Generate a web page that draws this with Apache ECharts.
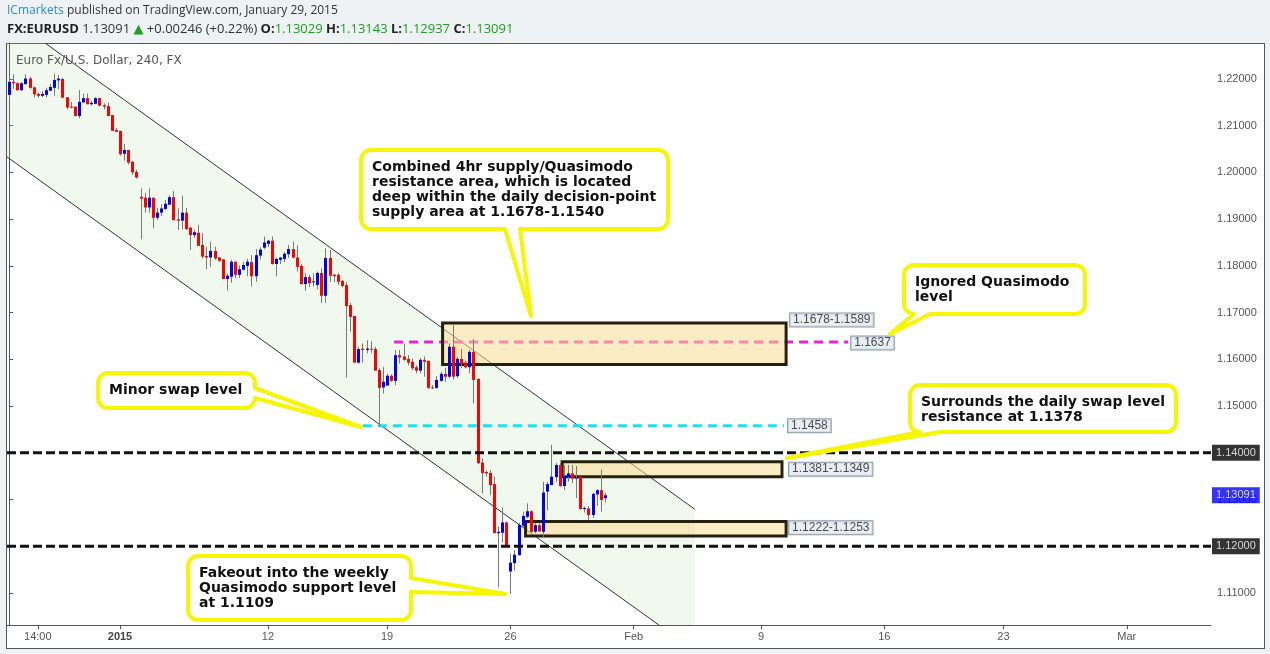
<!DOCTYPE html>
<html>
<head>
<meta charset="utf-8">
<title>FX:EURUSD 240</title>
<script src="https://cdn.jsdelivr.net/npm/echarts@6/dist/echarts.min.js"></script>
<style>
  html, body { margin: 0; padding: 0; background: #eef2f5; }
  #wrap { position: relative; width: 1270px; height: 654px; overflow: hidden; }
  #panel { position: absolute; left: 6px; top: 43px; width: 1257px; height: 604px; background: #fff; border: 1px solid #555; }
  #chart { position: absolute; left: 0; top: 0; width: 1270px; height: 654px; }
</style>
</head>
<body>
<div id="wrap">
  <div id="panel"></div>
  <div id="chart"></div>
</div>
<script>
// ---- 4-hour EURUSD candles: [open, high, low, close] ----
const candles = [
  [1.2166, 1.2198, 1.2162, 1.2194], [1.2194, 1.2210, 1.2179, 1.2191], [1.2191, 1.2193, 1.2175, 1.2176],
  [1.2176, 1.2193, 1.2175, 1.2191], [1.2189, 1.2210, 1.2188, 1.2201], [1.2201, 1.2205, 1.2179, 1.2181],
  [1.2182, 1.2184, 1.2160, 1.2167], [1.2168, 1.2171, 1.2160, 1.2164], [1.2164, 1.2174, 1.2161, 1.2168],
  [1.2166, 1.2181, 1.2161, 1.2176], [1.2175, 1.2189, 1.2174, 1.2183], [1.2181, 1.2211, 1.2164, 1.2198],
  [1.2197, 1.2209, 1.2178, 1.2201], [1.2200, 1.2202, 1.2160, 1.2160], [1.2161, 1.2161, 1.2135, 1.2139],
  [1.2141, 1.2151, 1.2137, 1.2139], [1.2141, 1.2141, 1.2120, 1.2121], [1.2121, 1.2176, 1.2116, 1.2151],
  [1.2150, 1.2169, 1.2149, 1.2159], [1.2159, 1.2169, 1.2146, 1.2146], [1.2146, 1.2153, 1.2143, 1.2149],
  [1.2147, 1.2161, 1.2146, 1.2159], [1.2159, 1.2160, 1.2141, 1.2143], [1.2144, 1.2148, 1.2135, 1.2141],
  [1.2142, 1.2150, 1.2120, 1.2121], [1.2123, 1.2123, 1.2089, 1.2089], [1.2091, 1.2095, 1.2087, 1.2087],
  [1.2089, 1.2089, 1.2036, 1.2039], [1.2040, 1.2061, 1.2025, 1.2048], [1.2048, 1.2048, 1.2017, 1.2021],
  [1.2023, 1.2025, 1.1995, 1.2000], [1.2001, 1.2006, 1.1987, 1.1989], [1.1948, 1.1966, 1.1857, 1.1944],
  [1.1946, 1.1956, 1.1914, 1.1925], [1.1925, 1.1966, 1.1914, 1.1946], [1.1946, 1.1946, 1.1881, 1.1903],
  [1.1903, 1.1924, 1.1898, 1.1914], [1.1914, 1.1932, 1.1907, 1.1923], [1.1922, 1.1941, 1.1920, 1.1933],
  [1.1931, 1.1951, 1.1931, 1.1947], [1.1947, 1.1960, 1.1897, 1.1898], [1.1900, 1.1923, 1.1877, 1.1897],
  [1.1897, 1.1950, 1.1878, 1.1914], [1.1914, 1.1924, 1.1877, 1.1879], [1.1882, 1.1884, 1.1834, 1.1866],
  [1.1866, 1.1877, 1.1860, 1.1872], [1.1871, 1.1888, 1.1843, 1.1843], [1.1845, 1.1870, 1.1816, 1.1820],
  [1.1821, 1.1841, 1.1793, 1.1818], [1.1818, 1.1852, 1.1798, 1.1832], [1.1832, 1.1841, 1.1813, 1.1816],
  [1.1818, 1.1819, 1.1808, 1.1811], [1.1814, 1.1815, 1.1772, 1.1772], [1.1772, 1.1784, 1.1747, 1.1779],
  [1.1777, 1.1813, 1.1764, 1.1809], [1.1809, 1.1809, 1.1774, 1.1781], [1.1781, 1.1801, 1.1774, 1.1793],
  [1.1792, 1.1809, 1.1790, 1.1802], [1.1800, 1.1815, 1.1778, 1.1809], [1.1808, 1.1823, 1.1756, 1.1778],
  [1.1778, 1.1836, 1.1766, 1.1823], [1.1822, 1.1840, 1.1814, 1.1835], [1.1839, 1.1863, 1.1836, 1.1850],
  [1.1847, 1.1856, 1.1840, 1.1854], [1.1854, 1.1863, 1.1803, 1.1804], [1.1804, 1.1818, 1.1778, 1.1815],
  [1.1813, 1.1819, 1.1804, 1.1818], [1.1815, 1.1830, 1.1808, 1.1826], [1.1825, 1.1845, 1.1817, 1.1836],
  [1.1836, 1.1852, 1.1816, 1.1818], [1.1818, 1.1844, 1.1788, 1.1798], [1.1800, 1.1804, 1.1760, 1.1761],
  [1.1761, 1.1784, 1.1747, 1.1776], [1.1776, 1.1781, 1.1755, 1.1763], [1.1765, 1.1784, 1.1756, 1.1767],
  [1.1759, 1.1788, 1.1750, 1.1785], [1.1785, 1.1795, 1.1721, 1.1736], [1.1736, 1.1838, 1.1721, 1.1817],
  [1.1817, 1.1834, 1.1765, 1.1779], [1.1781, 1.1783, 1.1765, 1.1778], [1.1781, 1.1785, 1.1759, 1.1766],
  [1.1768, 1.1770, 1.1754, 1.1757], [1.1759, 1.1766, 1.1561, 1.1714], [1.1716, 1.1721, 1.1659, 1.1691],
  [1.1693, 1.1693, 1.1593, 1.1593], [1.1593, 1.1627, 1.1591, 1.1622], [1.1623, 1.1634, 1.1593, 1.1620],
  [1.1620, 1.1641, 1.1613, 1.1623], [1.1623, 1.1639, 1.1613, 1.1621], [1.1622, 1.1627, 1.1576, 1.1576],
  [1.1577, 1.1581, 1.1456, 1.1539], [1.1540, 1.1584, 1.1527, 1.1552], [1.1544, 1.1569, 1.1543, 1.1565],
  [1.1565, 1.1568, 1.1552, 1.1554], [1.1554, 1.1620, 1.1545, 1.1609], [1.1609, 1.1620, 1.1591, 1.1604],
  [1.1606, 1.1634, 1.1597, 1.1599], [1.1601, 1.1609, 1.1587, 1.1593], [1.1595, 1.1602, 1.1577, 1.1581],
  [1.1583, 1.1587, 1.1570, 1.1576], [1.1576, 1.1603, 1.1570, 1.1599], [1.1599, 1.1606, 1.1563, 1.1595],
  [1.1597, 1.1597, 1.1537, 1.1539], [1.1540, 1.1545, 1.1537, 1.1539], [1.1539, 1.1564, 1.1537, 1.1556],
  [1.1554, 1.1573, 1.1552, 1.1569], [1.1569, 1.1582, 1.1552, 1.1563], [1.1563, 1.1634, 1.1560, 1.1627],
  [1.1627, 1.1674, 1.1557, 1.1563], [1.1564, 1.1605, 1.1560, 1.1601], [1.1601, 1.1622, 1.1581, 1.1590],
  [1.1593, 1.1597, 1.1581, 1.1583], [1.1583, 1.1620, 1.1570, 1.1616], [1.1616, 1.1643, 1.1506, 1.1556],
  [1.1558, 1.1560, 1.1376, 1.1378], [1.1379, 1.1388, 1.1313, 1.1357], [1.1359, 1.1362, 1.1349, 1.1356],
  [1.1357, 1.1363, 1.1310, 1.1331], [1.1333, 1.1349, 1.1228, 1.1228], [1.1228, 1.1242, 1.1112, 1.1231],
  [1.1229, 1.1283, 1.1208, 1.1251], [1.1251, 1.1253, 1.1198, 1.1199], [1.1146, 1.1184, 1.1098, 1.1165],
  [1.1164, 1.1192, 1.1148, 1.1182], [1.1181, 1.1250, 1.1180, 1.1246], [1.1244, 1.1274, 1.1242, 1.1265],
  [1.1263, 1.1292, 1.1260, 1.1275], [1.1275, 1.1277, 1.1229, 1.1231], [1.1231, 1.1249, 1.1228, 1.1245],
  [1.1245, 1.1249, 1.1231, 1.1232], [1.1231, 1.1338, 1.1220, 1.1315], [1.1317, 1.1338, 1.1277, 1.1333],
  [1.1331, 1.1417, 1.1331, 1.1349], [1.1348, 1.1378, 1.1338, 1.1374], [1.1374, 1.1378, 1.1327, 1.1329],
  [1.1329, 1.1374, 1.1320, 1.1350], [1.1348, 1.1374, 1.1338, 1.1356], [1.1356, 1.1374, 1.1335, 1.1345],
  [1.1345, 1.1372, 1.1303, 1.1347], [1.1349, 1.1349, 1.1278, 1.1280], [1.1280, 1.1285, 1.1272, 1.1282],
  [1.1281, 1.1286, 1.1256, 1.1267], [1.1267, 1.1315, 1.1261, 1.1312], [1.1311, 1.1322, 1.1286, 1.1320],
  [1.1320, 1.1364, 1.1274, 1.1299], [1.13029, 1.13143, 1.12937, 1.13091]
];

// ---- time axis: 4h bar slots (past bars + empty future space) ----
const slotCount = 293;
const barSlots = Array.from({ length: slotCount }, (_, i) => String(i));
const timeTickSlots = [7, 27, 63, 92, 122, 152, 183, 213, 242, 272];
const timeTickText = ['14:00', '2015', '12', '19', '26', 'Feb', '9', '16', '23', 'Mar'];
const yearTicks = ['2015'];

// ---- price axis ----
const priceMin = 1.103152;
const priceMax = 1.227704;
const priceTicks = [1.11, 1.12, 1.13, 1.14, 1.15, 1.16, 1.17, 1.18, 1.19, 1.20, 1.21, 1.22];
const roundLevels = [1.14, 1.12];

// ---- drawn levels and zones (slot index, price) ----
const quasimodoLevel = 1.1637;
const quasimodoSpan = [93.7, 204.2];
const minorSwapLevel = 1.1458;
const minorSwapSpan = [86.1, 188.6];
// [fromSlot, toSlot, top, bottom]
const supplyZone = [105.5, 189.1, 1.1678, 1.1589];
const resistanceZone = [134.6, 188.1, 1.1381, 1.1349];
const demandZone = [125.7, 189.1, 1.1253, 1.1222];
// descending channel anchors [slot, price]
const channelUpper = [[-0.5, 1.23355], [166.9, 1.12791]];
const channelLower = [[-0.5, 1.20333], [166.9, 1.09761]];

// ---- header quote ----
const symbol = 'FX:EURUSD';
const dayChange = '+0.00246 (+0.22%)';
const last = candles[candles.length - 1];

const fmt5 = v => v.toFixed(5);
const fmt4 = v => v.toFixed(4);
const tickSet = new Set(timeTickSlots);

const chart = echarts.init(document.getElementById('chart'), null, { renderer: 'canvas' });

// candle drawing: grey wick under a coloured 3px body
function renderCandle(params, api) {
  const i = api.value(0);
  const o = api.value(1), h = api.value(2), l = api.value(3), c = api.value(4);
  const pO = api.coord([i, o]);
  const pC = api.coord([i, c]);
  const pH = api.coord([i, h]);
  const pL = api.coord([i, l]);
  const x = Math.round(pO[0]) + 0.5;
  const top = Math.min(pO[1], pC[1]);
  const bot = Math.max(pO[1], pC[1]);
  return {
    type: 'group',
    children: [
      { type: 'line', shape: { x1: x, y1: pH[1], x2: x, y2: pL[1] }, style: { stroke: '#7a7a7a', lineWidth: 1 } },
      { type: 'rect', shape: { x: x - 1.5, y: top, width: 3, height: Math.max(1, bot - top) },
        style: { fill: c >= o ? '#0000ff' : '#ff0000' } }
    ]
  };
}

function renderChannel(params, api) {
  const u0 = api.coord(channelUpper[0]), u1 = api.coord(channelUpper[1]);
  const l0 = api.coord(channelLower[0]), l1 = api.coord(channelLower[1]);
  return {
    type: 'group',
    children: [
      { type: 'polygon', shape: { points: [u0, u1, l1, l0] }, style: { fill: 'rgba(180,220,160,0.18)' } },
      { type: 'line', shape: { x1: u0[0], y1: u0[1], x2: u1[0], y2: u1[1] }, style: { stroke: '#333', lineWidth: 1 } },
      { type: 'line', shape: { x1: l0[0], y1: l0[1], x2: l1[0], y2: l1[1] }, style: { stroke: '#333', lineWidth: 1 } }
    ]
  };
}

function renderZone(params, api) {
  const a = api.coord([api.value(0), api.value(2)]);
  const b = api.coord([api.value(1), api.value(3)]);
  return {
    type: 'rect',
    shape: { x: a[0], y: a[1], width: b[0] - a[0], height: b[1] - a[1] },
    style: { fill: 'rgba(250,220,145,0.55)', stroke: '#262010', lineWidth: 3 }
  };
}

function levelSeries(name, from, to, price, color, dash, z) {
  return {
    name, type: 'line', xAxisIndex: 1, yAxisIndex: 0, z, silent: true,
    showSymbol: false, symbol: 'none', animation: false,
    data: [[from, price], [to, price]],
    lineStyle: { color, width: 3, type: dash }
  };
}

const valueTagLabel = {
  show: true, position: 'right', distance: 3,
  color: '#222', fontSize: 12, fontFamily: '"Liberation Sans", Arial, sans-serif',
  backgroundColor: '#e2eaf1', borderColor: '#6d8292', borderWidth: 1, padding: [1, 3, 0, 3]
};

const valueTags = [
  { value: [supplyZone[1], supplyZone[2]], text: fmt4(supplyZone[2]) + '-' + fmt4(supplyZone[3]), distance: 4, offset: [0, -3] },
  { value: [quasimodoSpan[1], quasimodoLevel], text: fmt4(quasimodoLevel), distance: 3, offset: [0, 1] },
  { value: [minorSwapSpan[1], minorSwapLevel], text: fmt4(minorSwapLevel), distance: 4, offset: [0, 0] },
  { value: [resistanceZone[1], (resistanceZone[2] + resistanceZone[3]) / 2], text: fmt4(resistanceZone[2]) + '-' + fmt4(resistanceZone[3]), distance: 7, offset: [0, 0] },
  { value: [demandZone[1], (demandZone[2] + demandZone[3]) / 2], text: fmt4(demandZone[3]) + '-' + fmt4(demandZone[2]), distance: 3, offset: [0, -1] }
];

const axisTags = [
  { value: [slotCount - 0.5, roundLevels[0]], bg: '#000000' },
  { value: [slotCount - 0.5, last[3]], bg: '#0000ff' },
  { value: [slotCount - 0.5, roundLevels[1]], bg: '#000000' }
];

// speech-bubble outline (rounded box + pointer tail) as polygon points
function bubblePoints(x, y, w, h, r, tail) {
  const pts = [];
  const arc = (cx, cy, a0, a1) => {
    for (let k = 0; k <= 6; k++) {
      const a = (a0 + (a1 - a0) * k / 6) * Math.PI / 180;
      pts.push([cx + r * Math.cos(a), cy + r * Math.sin(a)]);
    }
  };
  arc(x + w - r, y + r, -90, 0);
  if (tail.side === 'right') pts.push([x + w, tail.a], tail.tip, [x + w, tail.b]);
  arc(x + w - r, y + h - r, 0, 90);
  if (tail.side === 'bottom') pts.push([tail.b, y + h], tail.tip, [tail.a, y + h]);
  arc(x + r, y + h - r, 90, 180);
  arc(x + r, y + r, 180, 270);
  return pts;
}

const callouts = [
  { box: [361, 150, 307, 79], text: 'Combined 4hr supply/Quasimodo\nresistance area, which is located\ndeep within the daily decision-point\nsupply area at 1.1678-1.1540',
    tail: { side: 'bottom', a: 505, b: 520, tip: [531, 316] } },
  { box: [904, 265, 181, 49], text: 'Ignored Quasimodo\nlevel',
    tail: { side: 'bottom', a: 914, b: 930, tip: [890, 334] } },
  { box: [98, 373, 157, 35], text: 'Minor swap level',
    tail: { side: 'right', a: 388, b: 398, tip: [361, 427] } },
  { box: [910, 385, 266, 47], text: 'Surrounds the daily swap level\nresistance at 1.1378',
    tail: { side: 'bottom', a: 920, b: 940, tip: [787, 458] } },
  { box: [188, 556, 223, 64], text: 'Fakeout into the weekly\nQuasimodo support level\nat 1.1109',
    tail: { side: 'right', a: 578, b: 592, tip: [505, 594] } }
];

const graphics = [];
callouts.forEach(cl => {
  const [x, y, w, h] = cl.box;
  graphics.push({
    type: 'polygon', z: 100, silent: true,
    shape: { points: bubblePoints(x, y, w, h, 10, cl.tail) },
    style: { fill: '#ffffff', stroke: '#f6f600', lineWidth: 4, lineJoin: 'round' }
  });
  graphics.push({
    type: 'text', z: 101, silent: true, x: x + 11, y: y + 10,
    style: { text: cl.text, fill: '#111', fontSize: 14, fontWeight: 'bold',
             fontFamily: '"DejaVu Sans", Verdana, sans-serif', lineHeight: 15, verticalAlign: 'top' }
  });
});

// header and pane title
graphics.push({
  type: 'text', z: 100, x: 7, y: 11,
  style: {
    text: '{a|ICmarkets} {t|published on TradingView.com, January 29, 2015}',
    verticalAlign: 'middle',
    rich: {
      a: { fill: '#2f8bd2', fontSize: 12, fontFamily: '"Open Sans", sans-serif' },
      t: { fill: '#333', fontSize: 12, fontFamily: '"Open Sans", sans-serif' }
    }
  }
});
graphics.push({
  type: 'text', z: 100, x: 7, y: 29,
  style: {
    text: `{b|${symbol}} {t|${fmt5(last[3])}} {g|▲}{t| ${dayChange}} {b|O:}{g|${fmt5(last[0])}} {b|H:}{g|${fmt5(last[1])}} {b|L:}{g|${fmt5(last[2])}} {b|C:}{g|${fmt5(last[3])}}`,
    verticalAlign: 'middle',
    rich: {
      b: { fill: '#222', fontSize: 13, fontWeight: 'bold', fontFamily: '"Open Sans", sans-serif' },
      t: { fill: '#333', fontSize: 13, fontFamily: '"Open Sans", sans-serif' },
      g: { fill: '#20a020', fontSize: 13, fontFamily: '"Open Sans", "DejaVu Sans", sans-serif' }
    }
  }
});
graphics.push({
  type: 'text', z: 100, x: 16, y: 61,
  style: { text: 'Euro Fx/U.S. Dollar, 240, FX', verticalAlign: 'middle', fill: '#555',
           fontSize: 12, fontFamily: '"DejaVu Sans", Verdana, sans-serif' }
});

const option = {
  animation: false,
  grid: { left: 7, right: 59, top: 43, bottom: 29, containLabel: false, outerBoundsMode: 'none' },
  xAxis: [
    {
      type: 'category', data: barSlots, gridIndex: 0, boundaryGap: true,
      axisLine: { show: true, lineStyle: { color: '#555', width: 1 } },
      axisTick: { show: true, alignWithLabel: true, length: 4, interval: i => tickSet.has(i), lineStyle: { color: '#555' } },
      axisLabel: {
        show: true, interval: i => tickSet.has(i), margin: 6,
        formatter: v => {
          const t = timeTickText[timeTickSlots.indexOf(Number(v))] || '';
          return yearTicks.includes(t) ? `{y|${t}}` : t;
        },
        rich: { y: { fontWeight: 'bold', color: '#444', fontSize: 11, fontFamily: '"Liberation Sans", Arial, sans-serif' } },
        color: '#555', fontSize: 11, fontFamily: '"Liberation Sans Narrow", "Liberation Sans", Arial, sans-serif'
      },
      splitLine: { show: false }
    },
    { type: 'value', gridIndex: 0, min: -0.5, max: slotCount - 0.5, show: false }
  ],
  yAxis: [{
    type: 'value', position: 'right', min: priceMin, max: priceMax,
    axisLine: { show: true, lineStyle: { color: '#555', width: 1 } },
    axisTick: { show: true, length: 4, customValues: priceTicks, lineStyle: { color: '#555' } },
    axisLabel: {
      show: true, customValues: priceTicks.filter(v => !roundLevels.includes(v)),
      formatter: v => fmt5(v), margin: 6, color: '#555', fontSize: 11,
      fontFamily: '"Liberation Sans", Arial, sans-serif'
    },
    splitLine: { show: false }
  }],
  series: [
    {
      name: 'channel', type: 'custom', xAxisIndex: 1, yAxisIndex: 0, z: 1, clip: true, silent: true,
      renderItem: renderChannel, data: [[0, 1.15]]
    },
    levelSeries('quasimodo', quasimodoSpan[0], quasimodoSpan[1], quasimodoLevel, '#f21fd8', [9, 6], 2),
    levelSeries('minor swap', minorSwapSpan[0], minorSwapSpan[1], minorSwapLevel, '#19e3ee', [9, 6], 2),
    {
      name: 'zones', type: 'custom', xAxisIndex: 1, yAxisIndex: 0, z: 3, clip: true, silent: true,
      renderItem: renderZone, encode: { x: [0, 1], y: [2, 3] },
      data: [supplyZone, resistanceZone, demandZone]
    },
    {
      name: 'EURUSD', type: 'custom', xAxisIndex: 0, yAxisIndex: 0, z: 4, clip: true,
      renderItem: renderCandle, encode: { x: 0, y: [1, 2, 3, 4] },
      data: candles.map((k, i) => [i, k[0], k[1], k[2], k[3]])
    },
    levelSeries('1.1400', -0.5, slotCount - 0.5, roundLevels[0], '#111', [9, 4], 5),
    levelSeries('1.1200', -0.5, slotCount - 0.5, roundLevels[1], '#111', [9, 4], 5),
    {
      name: 'value tags', type: 'scatter', xAxisIndex: 1, yAxisIndex: 0, z: 6, clip: false, silent: true,
      symbolSize: 0,
      data: valueTags.map(t => ({
        value: t.value,
        label: Object.assign({}, valueTagLabel, { distance: t.distance, offset: t.offset, formatter: t.text })
      }))
    },
    {
      name: 'axis tags', type: 'scatter', xAxisIndex: 1, yAxisIndex: 0, z: 7, clip: false, silent: true,
      symbolSize: 0,
      data: axisTags.map(t => ({
        value: t.value,
        label: {
          show: true, position: 'right', distance: 1, formatter: fmt5(t.value[1]),
          color: '#fff', backgroundColor: t.bg, fontSize: 11, padding: [3, 4, 2, 4],
          fontFamily: '"Liberation Sans", Arial, sans-serif'
        }
      }))
    }
  ],
  graphic: { elements: graphics }
};

chart.setOption(option);
</script>
</body>
</html>
